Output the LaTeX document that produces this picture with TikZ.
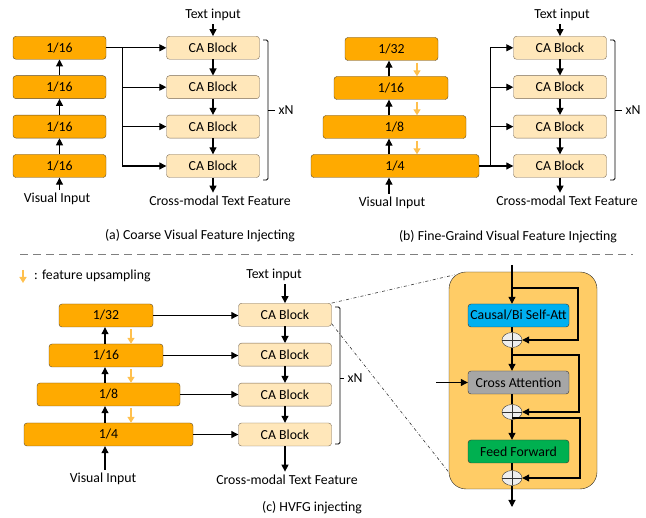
\documentclass[tikz,border=0pt]{standalone}
\usepackage{fontspec}
\setmainfont{Carlito}
\usepackage{xcolor}
\definecolor{cFeat}{HTML}{FFAA00}
\definecolor{cFeatLine}{HTML}{5C4A2A}
\definecolor{cBlock}{HTML}{FFE7BA}
\definecolor{cBlockLine}{HTML}{7A6A55}
\definecolor{cUp}{HTML}{FFC04D}
\definecolor{cZoom}{HTML}{FFCC66}
\definecolor{cSelf}{HTML}{00B0F0}
\definecolor{cCross}{HTML}{A6A6A6}
\definecolor{cFF}{HTML}{00B050}
\definecolor{cAdd}{HTML}{EEEEEE}
\definecolor{cDash}{HTML}{7F7F7F}
\usepackage{tikz}
\usetikzlibrary{positioning,arrows.meta,shapes.geometric,calc}
\tikzset{
  feat-box/.style={draw=cFeatLine,fill=cFeat,rounded corners=3pt,
    minimum height=23pt,inner sep=0pt},
  ca-box/.style={draw=cBlockLine,fill=cBlock,rounded corners=3pt,
    minimum height=23pt,minimum width=93pt,inner sep=0pt},
  layer-box/.style={draw=black!80,rounded corners=3pt,
    minimum height=23pt,minimum width=101pt,inner sep=0pt},
  add-node/.style={ellipse,draw=black!80,fill=cAdd,minimum width=20pt,
    minimum height=15pt,inner sep=0pt,
    path picture={\draw[black!80]
      (path picture bounding box.north) -- (path picture bounding box.south)
      (path picture bounding box.west) -- (path picture bounding box.east);}},
  arrow/.style={-{Triangle[length=7pt,width=7pt]},line width=1.1pt},
  link/.style={line width=1.1pt},
  arrow-up/.style={-{Triangle[length=6pt,width=7pt]},line width=1.5pt,draw=cUp},
  bracket/.style={line width=0.8pt,rounded corners=1.5pt},
  zoom-line/.style={dash dot,line width=0.6pt,draw=black!80},
}

\begin{document}
\begin{tikzpicture}[x=1pt,y=-1pt,node distance=16pt,
    font=\fontsize{13.8}{16}\selectfont]
  \useasboundingbox (0,0) rectangle (646,518);

  % (a) coarse visual feature
  \node[feat-box,minimum width=93pt] (a1) at (59.5,166) {1/16};
  \node[feat-box,minimum width=93pt,above=of a1] (a2) {1/16};
  \node[feat-box,minimum width=93pt,above=of a2] (a3) {1/16};
  \node[feat-box,minimum width=93pt,above=of a3] (a4) {1/16};
  \node[ca-box] (ca-a1) at (213,166) {CA Block};
  \node[ca-box,above=of ca-a1] (ca-a2) {CA Block};
  \node[ca-box,above=of ca-a2] (ca-a3) {CA Block};
  \node[ca-box,above=of ca-a3] (ca-a4) {CA Block};
  \node (ta-in) at (213,15) {Text input};
  \node (va-in) at (57,199) {Visual Input};
  \node (oa) at (220,201) {Cross-modal Text Feature};
  \node (xn-a) at (286,110) {xN};
  \node (cap-a) at (200,236) {(a) Coarse Visual Feature Injecting};
  \draw[arrow] (a1.south |- va-in.north) -- (a1.south);
  \foreach \i/\j in {1/2,2/3,3/4}
    \draw[arrow] (a\i.north) -- (a\j.south);
  \draw[link] (a4.east) -- ++(16,0) coordinate (a-trunk)
    -- (a-trunk |- ca-a1.west);
  \foreach \i in {1,...,4}
    \draw[arrow] (a-trunk |- ca-a\i.west) -- (ca-a\i.west);
  \draw[arrow] (ta-in) -- (ca-a4);
  \foreach \i/\j in {4/3,3/2,2/1}
    \draw[arrow] (ca-a\i.south) -- (ca-a\j.north);
  \draw[arrow] (ca-a1.south) -- (ca-a1.south |- oa.north);
  \draw[bracket] (263,40) -- (268,40) -- (268,180) -- (263,180);
  \draw[bracket] (268,110) -- (xn-a.west);

  % (b) fine-grained visual feature
  \node[feat-box,minimum width=168pt] (b1) at (395,166) {1/4};
  \node[feat-box,minimum width=143pt] (b2) at (394.5,127) {1/8};
  \node[feat-box,minimum width=114pt] (b3) at (391,88) {1/16};
  \node[feat-box,minimum width=93pt] (b4) at (391.5,49) {1/32};
  \node[ca-box] (ca-b1) at (560,166) {CA Block};
  \node[ca-box,above=of ca-b1] (ca-b2) {CA Block};
  \node[ca-box,above=of ca-b2] (ca-b3) {CA Block};
  \node[ca-box,above=of ca-b3] (ca-b4) {CA Block};
  \node (tb-in) at (562,15) {Text input};
  \node (vb-in) at (392,203) {Visual Input};
  \node (ob) at (567,201) {Cross-modal Text Feature};
  \node (xn-b) at (633,110) {xN};
  \node (cap-b) at (508,237) {(b) Fine-Graind Visual Feature Injecting};
  \coordinate (b-up) at (389,0);
  \coordinate (b-down) at (417,0);
  \draw[arrow] (b-up |- vb-in.north) -- (b-up |- b1.south);
  \foreach \i/\j in {1/2,2/3,3/4}
    \draw[arrow] (b-up |- b\i.north) -- (b-up |- b\j.south);
  \foreach \i/\j in {4/3,3/2,2/1}
    \draw[arrow-up,shorten <=2pt] (b-down |- b\i.south) -- (b-down |- b\j.north);
  \draw[link] (b1.east) -- ++(11,0) coordinate (b-trunk)
    -- (b-trunk |- ca-b4.west);
  \foreach \i in {1,...,4}
    \draw[arrow] (b-trunk |- ca-b\i.west) -- (ca-b\i.west);
  \draw[arrow] (ca-b4.north |- tb-in.south) -- (ca-b4.north);
  \foreach \i/\j in {4/3,3/2,2/1}
    \draw[arrow] (ca-b\i.south) -- (ca-b\j.north);
  \draw[arrow] (ca-b1.south) -- (ca-b1.south |- ob.north);
  \draw[bracket] (610,40) -- (615,40) -- (615,180) -- (610,180);
  \draw[bracket] (615,110) -- (xn-b.west);

  \draw[cDash,line width=1pt,dash pattern=on 8pt off 5pt] (20,255) -- (633,255);

  % (c) HVFG injecting
  \coordinate (leg-top) at (23,270);
  \coordinate (leg-bot) at (23,283);
  \draw[arrow-up] (leg-top) -- (leg-bot);
  \node[anchor=west,inner sep=0pt] (leg-txt) at (34,276) {: feature upsampling};
  \node[feat-box,minimum width=169pt] (c1) at (108.5,434.5) {1/4};
  \node[feat-box,minimum width=143pt] (c2) at (108.5,394.5) {1/8};
  \node[feat-box,minimum width=114pt] (c3) at (106,355.5) {1/16};
  \node[feat-box,minimum width=94pt] (c4) at (106,315.5) {1/32};
  \node[ca-box] (ca-c1) at (285,434.5) {CA Block};
  \node[ca-box,above=16.5pt of ca-c1] (ca-c2) {CA Block};
  \node[ca-box,above=16.5pt of ca-c2] (ca-c3) {CA Block};
  \node[ca-box,above=16.5pt of ca-c3] (ca-c4) {CA Block};
  \node (tc-in) at (274,275) {Text input};
  \node (vc-in) at (103,479) {Visual Input};
  \node (oc) at (287,480) {Cross-modal Text Feature};
  \node (xn-c) at (355,378) {xN};
  \node (cap-c) at (312,508) {(c) HVFG injecting};
  \coordinate (c-up) at (105,0);
  \coordinate (c-down) at (131,0);
  \draw[arrow] (c-up |- vc-in.north) -- (c-up |- c1.south);
  \foreach \i/\j in {1/2,2/3,3/4}
    \draw[arrow] (c-up |- c\i.north) -- (c-up |- c\j.south);
  \foreach \i/\j in {4/3,3/2,2/1}
    \draw[arrow-up,shorten <=2pt] (c-down |- c\i.south) -- (c-down |- c\j.north);
  \foreach \i in {1,...,4}
    \draw[arrow] (c\i.east) -- (c\i.east -| ca-c\i.west);
  \draw[arrow] (ca-c4.north |- tc-in.south) -- (ca-c4.north);
  \foreach \i/\j in {4/3,3/2,2/1}
    \draw[arrow] (ca-c\i.south) -- (ca-c\j.north);
  \draw[arrow] (ca-c1.south) -- (ca-c1.south |- oc.north);
  \draw[bracket] (335,307) -- (340,307) -- (340,444) -- (335,444);
  \draw[bracket] (340,378) -- (xn-c.west);

  % inside one CA block
  \node[draw=black!85,fill=cZoom,rounded corners=17pt,minimum width=148pt,
    minimum height=217pt] (zoom) at (523,380.5) {};
  \node[layer-box,fill=cSelf] (self) at (518.5,315.5) {Causal/Bi Self-Att};
  \node[layer-box,fill=cCross] (cross) at (518.5,382.5) {Cross Attention};
  \node[layer-box,fill=cFF] (ff) at (518.5,451.5) {Feed Forward};
  \node[add-node] (add1) at (512,340) {};
  \node[add-node] (add2) at (512,412) {};
  \node[add-node] (add3) at (512,478) {};
  \coordinate (m) at (512,0);
  \coordinate (z-in) at (512,265);
  \coordinate (z-out) at (512,507);
  \coordinate (z-text) at (436,382.5);
  \coordinate (res1) at (578,288);
  \coordinate (res2) at (579,355);
  \coordinate (res3) at (580,418);
  \draw[arrow] (z-in) -- (m |- self.north);
  \draw[arrow] (m |- res1) -- (res1) |- (add1.east);
  \draw[link] (m |- self.south) -- (add1.north);
  \draw[arrow] (add1.south) -- (m |- cross.north);
  \draw[arrow] (m |- res2) -- (res2) |- (add2.east);
  \draw[link] (m |- cross.south) -- (add2.north);
  \draw[arrow] (add2.south) -- (m |- ff.north);
  \draw[arrow] (m |- res3) -- (res3) |- (add3.east);
  \draw[link] (m |- ff.south) -- (add3.north);
  \draw[arrow] (add3.south) -- (z-out);
  \draw[arrow] (z-text) -- (cross.west);
  \draw[zoom-line] (ca-c4.north east) -- ($(zoom.north west)+(6,3)$);
  \draw[zoom-line] ($(ca-c4.east)+(0,9)$) -- ($(zoom.south west)+(0,-17)$);
\end{tikzpicture}
\end{document}
